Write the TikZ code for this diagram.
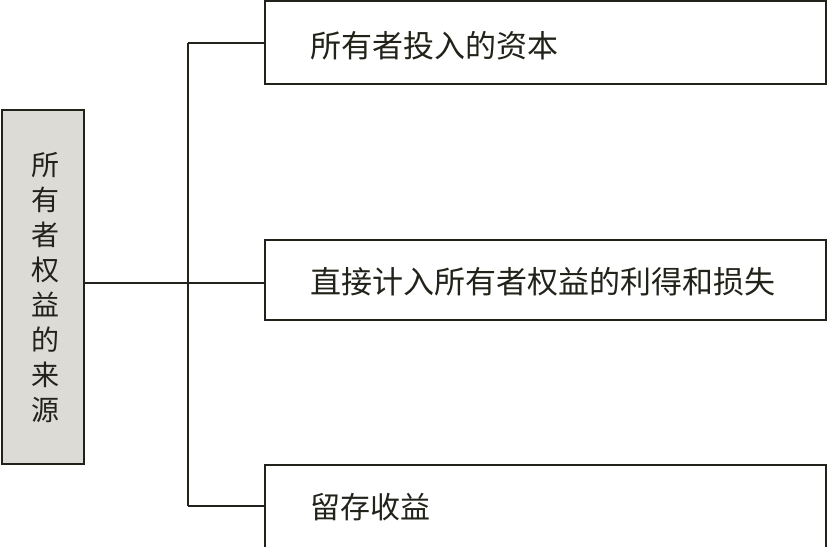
\documentclass[tikz,border=0pt]{standalone}
\usepackage{fontspec}
\newfontfamily\cjk{Noto Sans CJK SC}
\definecolor{ln}{HTML}{22221A}
\definecolor{gfill}{HTML}{DCDBD6}
\begin{document}
\begin{tikzpicture}[x=1pt,y=-1pt,
  box/.style={draw=ln,line width=2pt,rectangle,inner sep=0pt},
  conn/.style={draw=ln,line width=2pt},
  lbl/.style={anchor=west,inner sep=0pt,text=ln}]
\useasboundingbox (0,0) rectangle (827,546);
\node[box,fill=gfill,minimum width=82pt,minimum height=354pt] (L) at (43,287) {};
\node[inner sep=0pt,text=ln,align=center,font={\cjk\fontsize{28}{35}\selectfont}] (Lt) at (45,288) {所\\有\\者\\权\\益\\的\\来\\源};
\node[box,fill=white,minimum width=561pt,minimum height=83pt] (T) at (545.5,42.5) {};
\node[box,fill=white,minimum width=561pt,minimum height=80pt] (M) at (545.5,280) {};
\node[box,fill=white,minimum width=561pt,minimum height=95pt] (B) at (545.5,512.5) {};
\node[lbl,font={\cjk\fontsize{31}{31}\selectfont}] (Tt) at (310,46) {所有者投入的资本};
\node[lbl,font={\cjk\fontsize{31}{31}\selectfont}] (Mt) at (310,282) {直接计入所有者权益的利得和损失};
\node[lbl,font={\cjk\fontsize{30}{30}\selectfont}] (Bt) at (310,507) {留存收益};
\coordinate (j) at (188,283);
\coordinate (jt) at (188,43);
\coordinate (jb) at (188,506);
\draw[conn] (L.east |- j) -- (M.west |- j);
\draw[conn] (jt) -- (jb);
\draw[conn] (jt) -- (T.west |- jt);
\draw[conn] (jb) -- (B.west |- jb);
\end{tikzpicture}
\end{document}
